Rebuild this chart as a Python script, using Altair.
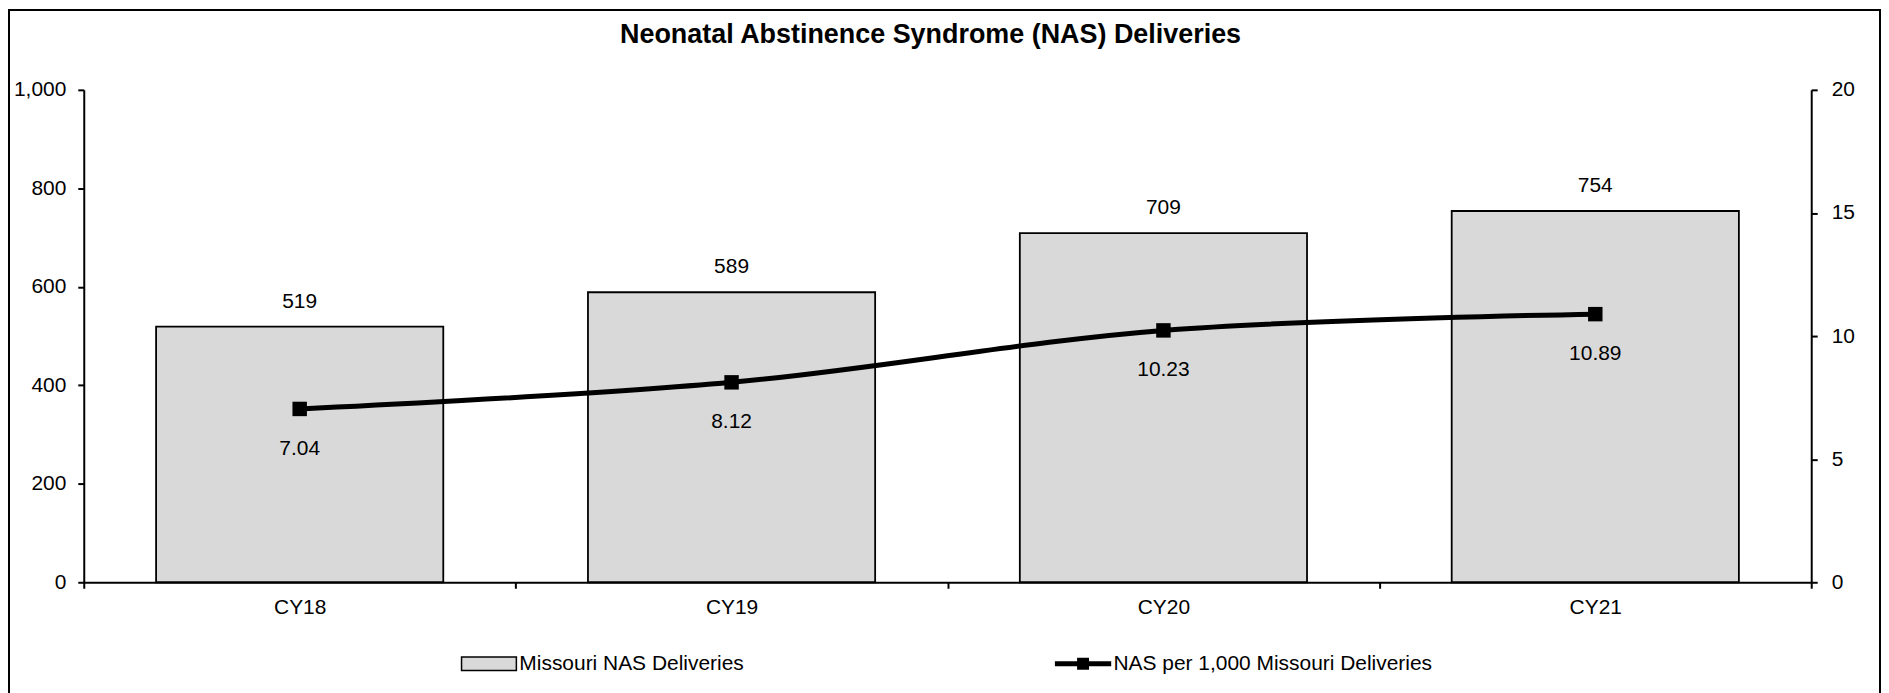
import altair as alt
import pandas as pd

categories = ["CY18", "CY19", "CY20", "CY21"]
deliveries = [519, 589, 709, 754]
rate = [7.04, 8.12, 10.23, 10.89]
rate_labels = ["7.04", "8.12", "10.23", "10.89"]
series_names = ["Missouri NAS Deliveries", "NAS per 1,000 Missouri Deliveries"]
left_ticks = [0, 200, 400, 600, 800, 1000]
right_ticks = [0, 5, 10, 15, 20]
title_text = "Neonatal Abstinence Syndrome (NAS) Deliveries"

df = pd.DataFrame({"cat": categories, "deliveries": deliveries,
                   "rate": rate, "rate_label": rate_labels})
legend_df = pd.DataFrame({"series": series_names,
                          "cat": [categories[0]] * 2,
                          "deliveries": [-500, -500]})
frame_df = pd.DataFrame({"k": [0]})

FONT = "Liberation Sans"
W, H = 1733, 494
FS = 21

x_enc = alt.X("cat:N", sort=categories, title=None,
              scale=alt.Scale(paddingInner=0, paddingOuter=0),
              axis=alt.Axis(tickBand="extent", labelAngle=0, tickSize=6,
                            labelPadding=8, domainColor="black", domainWidth=2,
                            tickColor="black", tickWidth=2, labelFontSize=FS,
                            labelColor="black", labelFont=FONT, grid=False))

y_left = alt.Y("deliveries:Q", scale=alt.Scale(domain=[0, 1000]),
               axis=alt.Axis(orient="left", values=left_ticks, format=",.0f",
                             title=None, grid=False, tickSize=6, labelPadding=12,
                             domainColor="black", domainWidth=2, tickColor="black",
                             tickWidth=2, labelFontSize=FS, labelColor="black",
                             labelFont=FONT))

y_right = alt.Y("rate:Q", scale=alt.Scale(domain=[0, 20]),
                axis=alt.Axis(orient="right", values=right_ticks, format=".0f",
                              title=None, grid=False, tickSize=6, labelPadding=14,
                              domainColor="black", domainWidth=2, tickColor="black",
                              tickWidth=2, labelFontSize=FS, labelColor="black",
                              labelFont=FONT))

bar_path = "M-1,-0.25H1V0.25H-1Z"
line_path = "M-1,-0.065H1V0.065H-1Z M-0.19,-0.19H0.19V0.19H-0.19Z"

leg = alt.Legend(title=None, orient="none", legendX=378, legendY=547,
                 direction="horizontal", columns=2, columnPadding=309,
                 symbolSize=3025, labelOffset=2, labelFontSize=FS,
                 labelFont=FONT, labelColor="black", labelLimit=800,
                 symbolStrokeColor="black", symbolStrokeWidth=1.5)

bars = alt.Chart(df).mark_bar(width={"band": 0.665}, fill="#d9d9d9",
                              stroke="black", strokeWidth=1.8).encode(
    x=x_enc, y=y_left)

bar_labels = alt.Chart(df).mark_text(dy=-25, baseline="middle", fontSize=FS,
                                     font=FONT, color="black").encode(
    x=x_enc, y=y_left, text=alt.Text("deliveries:Q"))

legend_pts = alt.Chart(legend_df).mark_point(
    filled=True, clip=True, stroke="black", strokeWidth=1.5, opacity=1).encode(
    x=x_enc, y=y_left,
    color=alt.Color("series:N", scale=alt.Scale(domain=series_names,
                                                range=["#d9d9d9", "black"]),
                    legend=leg),
    shape=alt.Shape("series:N", scale=alt.Scale(domain=series_names,
                                                range=[bar_path, line_path]),
                    legend=leg))

frame = alt.Chart(frame_df).mark_rect(fill="transparent", stroke="black",
                                      strokeWidth=2).encode(
    x=alt.value(-75), x2=alt.value(1802), y=alt.value(-80), y2=alt.value(612))

left_group = alt.layer(frame, bars, bar_labels, legend_pts)

line = alt.Chart(df).mark_line(color="black", strokeWidth=5,
                               interpolate="catmull-rom").encode(x=x_enc, y=y_right)
pts = alt.Chart(df).mark_point(shape="square", filled=True, size=210,
                               color="black", opacity=1).encode(x=x_enc, y=y_right)
line_labels = alt.Chart(df).mark_text(dy=40, baseline="middle", fontSize=FS,
                                      font=FONT, color="black").encode(
    x=x_enc, y=y_right, text=alt.Text("rate_label:N"))

right_group = alt.layer(line, pts, line_labels)

chart = alt.layer(left_group, right_group).resolve_scale(
    y="independent").properties(
    width=W, height=H, padding=0,
    title=alt.TitleParams(text=title_text, fontSize=27, fontWeight="bold",
                          font=FONT, color="black", offset=-40, anchor="middle",
                          frame="group", dx=-17)
).configure_view(stroke=None)

chart.save("out.html", embed_options={"renderer": "svg", "actions": False})
